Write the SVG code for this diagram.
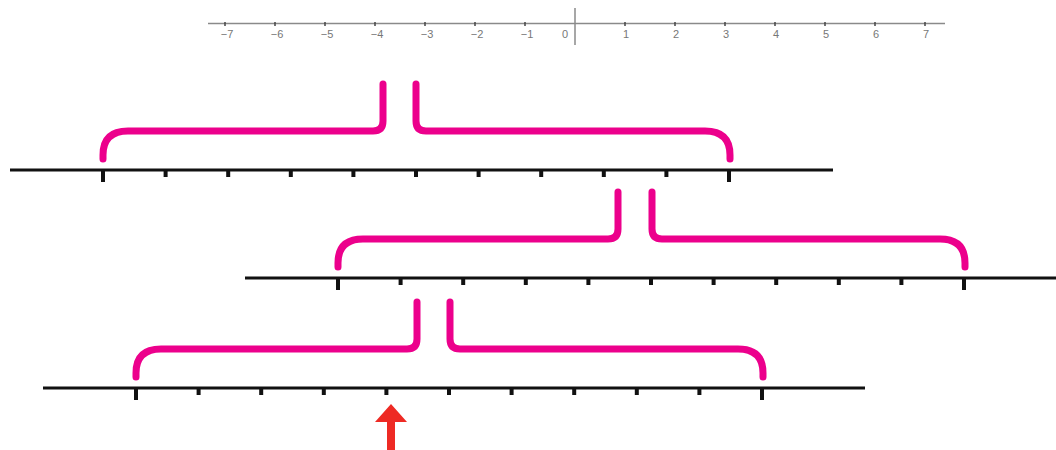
<svg xmlns="http://www.w3.org/2000/svg" width="1056" height="450" viewBox="0 0 1056 450">
<style>
.axis{stroke:#8a8a8a;stroke-width:1.5;fill:none}
.tt{stroke:#444;stroke-width:1.5}
.lbl{font-family:"Liberation Sans",Arial,sans-serif;font-size:11px;fill:#777;text-anchor:middle}
.nl{stroke:#111;stroke-width:3;fill:none}
.brk{stroke:#ec008c;stroke-width:7;fill:none;stroke-linecap:round;stroke-linejoin:round}
</style>
<defs>
<g id="ticks">
<rect x="-2" y="0" width="4" height="12"/>
<rect x="60.6" y="0" width="4" height="7"/>
<rect x="123.2" y="0" width="4" height="7"/>
<rect x="185.8" y="0" width="4" height="7"/>
<rect x="248.4" y="0" width="4" height="7"/>
<rect x="311" y="0" width="4" height="7"/>
<rect x="373.6" y="0" width="4" height="7"/>
<rect x="436.2" y="0" width="4" height="7"/>
<rect x="498.8" y="0" width="4" height="7"/>
<rect x="561.4" y="0" width="4" height="7"/>
<rect x="624" y="0" width="4" height="12"/>
</g>
</defs>
<rect width="1056" height="450" fill="#fff"/>
<g id="top-axis">
<line class="axis" x1="208" y1="23.5" x2="945" y2="23.5"/>
<line class="axis" x1="575" y1="8" x2="575" y2="45"/>
<g class="tt">
<line x1="225" y1="22" x2="225" y2="26"/><line x1="275" y1="22" x2="275" y2="26"/>
<line x1="325" y1="22" x2="325" y2="26"/><line x1="375" y1="22" x2="375" y2="26"/>
<line x1="425" y1="22" x2="425" y2="26"/><line x1="475" y1="22" x2="475" y2="26"/>
<line x1="525" y1="22" x2="525" y2="26"/><line x1="625" y1="22" x2="625" y2="26"/>
<line x1="675" y1="22" x2="675" y2="26"/><line x1="725" y1="22" x2="725" y2="26"/>
<line x1="775" y1="22" x2="775" y2="26"/><line x1="825" y1="22" x2="825" y2="26"/>
<line x1="875" y1="22" x2="875" y2="26"/><line x1="925" y1="22" x2="925" y2="26"/>
</g>
<g class="lbl">
<text x="227" y="38">−7</text><text x="277" y="38">−6</text><text x="327" y="38">−5</text>
<text x="377" y="38">−4</text><text x="427" y="38">−3</text><text x="477" y="38">−2</text>
<text x="527" y="38">−1</text><text x="565" y="38">0</text>
<text x="626" y="38">1</text><text x="676" y="38">2</text><text x="726" y="38">3</text>
<text x="776" y="38">4</text><text x="826" y="38">5</text><text x="876" y="38">6</text>
<text x="926" y="38">7</text>
</g>
</g>
<g id="line1">
<line class="nl" x1="10" y1="170" x2="833" y2="170"/>
<use href="#ticks" x="103" y="170" fill="#111"/>
<path class="brk" d="M103,159 V155 Q103,131 128,131 H373 Q383,131 383,121 V84 M416,84 V121 Q416,131 426,131 H705 Q730,131 730,155 V159"/>
</g>
<g id="line2">
<line class="nl" x1="245" y1="278" x2="1056" y2="278"/>
<use href="#ticks" x="338" y="278" fill="#111"/>
<path class="brk" d="M338,267 V263 Q338,239 363,239 H608 Q618,239 618,229 V192 M652,192 V229 Q652,239 662,239 H940 Q965,239 965,263 V267"/>
</g>
<g id="line3">
<line class="nl" x1="43" y1="388" x2="865" y2="388"/>
<use href="#ticks" x="136" y="388" fill="#111"/>
<path class="brk" d="M136,377 V373 Q136,349 161,349 H407 Q417,349 417,339 V302 M450,302 V339 Q450,349 460,349 H738 Q763,349 763,373 V377"/>
</g>
<g id="arrow">
<polygon points="391,404 407,422 395,422 395,450 387,450 387,422 375,422" fill="#ee2a24"/>
</g>
</svg>
